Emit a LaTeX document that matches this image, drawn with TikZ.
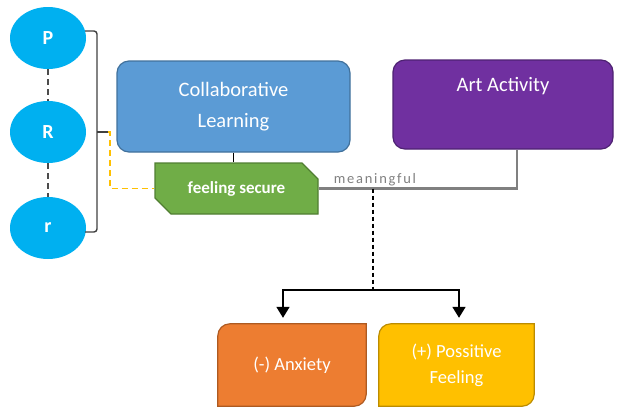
\documentclass[tikz,border=0pt]{standalone}
\usepackage{fontspec}
\setmainfont{Carlito}
\newfontfamily\spaced[LetterSpace=12]{Carlito}
\usetikzlibrary{shapes.geometric,shapes.misc,arrows.meta,backgrounds}

\definecolor{skyblue}{HTML}{00B0F0}
\definecolor{clblue}{HTML}{5B9BD5}
\definecolor{clborder}{HTML}{41719C}
\definecolor{artpurple}{HTML}{7030A0}
\definecolor{artborder}{HTML}{4E2272}
\definecolor{fsgreen}{HTML}{70AD47}
\definecolor{fsborder}{HTML}{507E32}
\definecolor{anxorange}{HTML}{ED7D31}
\definecolor{anxborder}{HTML}{AE5A21}
\definecolor{posyellow}{HTML}{FFC000}
\definecolor{posborder}{HTML}{BC8C00}
\definecolor{linegray}{HTML}{808080}

\tikzset{
  letter/.style={ellipse, fill=skyblue, minimum width=76pt, minimum height=62pt,
    text=white, font=\fontsize{20}{22}\selectfont\bfseries},
  box/.style={rectangle, rounded corners=12pt, line width=1.2pt, text=white,
    align=center, font=\fontsize{20.5}{31}\selectfont},
  feel/.style={chamfered rectangle, chamfered rectangle corners={north east,south west},
    chamfered rectangle sep=8pt, fill=fsgreen, draw=fsborder, line width=1.2pt,
    minimum width=163pt, minimum height=51pt, text=white,
    font=\fontsize{17}{20}\selectfont\bfseries},
  outbox/.style={minimum width=148pt, minimum height=82pt, text=white, align=center,
    font=\fontsize{18.5}{26}\selectfont},
  dotline/.style={draw=black!70, line width=2.2pt, dash pattern=on 6pt off 4pt},
  brace/.style={draw=black!75, line width=1.4pt, rounded corners=3pt},
  yellowdash/.style={draw=posyellow, line width=1.4pt, dash pattern=on 6pt off 4pt},
  grayline/.style={draw=linegray, line width=2.4pt},
  arrow/.style={line width=1.8pt, -{Triangle[width=13pt,length=11pt]}, shorten >=6pt}
}

\begin{document}
\begin{tikzpicture}[x=1pt, y=-1pt]
  \useasboundingbox (0,0) rectangle (619,408);

  \node (p) [letter] at (48,38) {P};
  \node (r1) [letter] at (48,132) {R};
  \node (r2) [letter] at (48,228) {r};
  \draw[dotline] (p) -- (r1);
  \draw[dotline] (r1) -- (r2);

  % bracket round the three letters
  \draw[brace] (85,31) -- (97,31) -- (97,232) -- (85,232);
  \coordinate (tip) at (108,132);
  \draw[brace] (97,132) -- (tip);

  \node (cl) [box, fill=clblue, draw=clborder, minimum width=233pt, minimum height=91pt]
    at (233.5,106.5) {Collaborative\\Learning};
  \node (art) [box, fill=artpurple, draw=artborder, minimum width=220pt, minimum height=89pt]
    at (503,104.5) {Art Activity\\\strut};
  \node (fs) [feel] at (236.5,188.5) {feeling secure};

  \draw[line width=1.4pt] (cl.south) -- (cl.south |- fs.north);
  \draw[yellowdash] (tip) -- ++(2,0) |- (fs.west);
  \draw[grayline] (fs.east) -| ([xshift=14pt]art.south);
  \node (mean) [text=linegray, font=\fontsize{14.5}{16}\spaced] at (375,180) {meaningful};

  \coordinate (split) at (373,290);
  \draw[line width=1.3pt, dash pattern=on 4pt off 3pt] (split |- fs.east) -- (split);

  \node (anx) [outbox] at (292,365) {(-) Anxiety};
  \node (pos) [outbox, minimum width=155pt] at (456.5,365) {(+) Possitive\\Feeling};
  \begin{scope}[on background layer]
    \draw[fill=anxorange, draw=anxborder, line width=1.2pt] (anx.south west)
      -- ([yshift=-12pt]anx.north west) arc[start angle=180, end angle=90, radius=12pt]
      -- (anx.north east) -- ([yshift=12pt]anx.south east)
      arc[start angle=0, end angle=-90, radius=12pt] -- cycle;
    \draw[fill=posyellow, draw=posborder, line width=1.2pt] (pos.south west)
      -- ([yshift=-12pt]pos.north west) arc[start angle=180, end angle=90, radius=12pt]
      -- (pos.north east) -- ([yshift=12pt]pos.south east)
      arc[start angle=0, end angle=-90, radius=12pt] -- cycle;
  \end{scope}

  \draw[arrow] (split) -| ([xshift=-9pt]anx.north);
  \draw[arrow] (split) -| ([xshift=2.5pt]pos.north);
\end{tikzpicture}
\end{document}
